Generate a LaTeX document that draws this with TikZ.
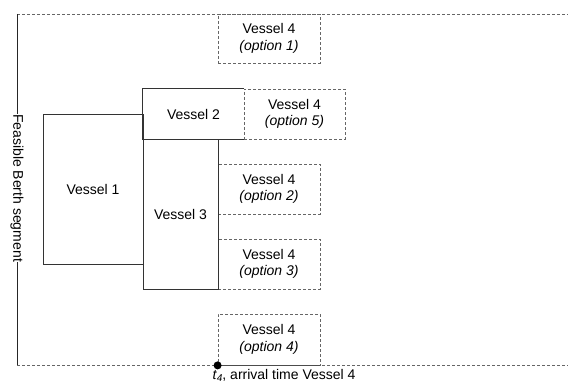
\documentclass[tikz,border=0pt]{standalone}
\usepackage{fontspec}
\setmainfont{Liberation Sans}
\begin{document}
\begin{tikzpicture}[x=1pt,y=-1pt,
  lbl/.style={font=\fontsize{14}{16.5}\selectfont, align=center, text=black},
  vessel/.style={lbl, draw=black!80, line width=0.9pt, inner sep=0pt},
  option/.style={lbl, draw=black!60, line width=0.8pt, dash pattern=on 3pt off 2pt, inner sep=0pt},
  bound/.style={draw=black!60, line width=0.8pt, dash pattern=on 3pt off 2pt},
  axis/.style={draw=black!85, line width=0.9pt}]
\useasboundingbox (0,0) rectangle (568,387);

% berth segment frame
\coordinate (tl) at (17,14);
\coordinate (bl) at (17,365);
\coordinate (tr) at (568,14);
\coordinate (br) at (568,365);
\draw[bound] (tl) -- (tr);
\draw[bound] (bl) -- (br);

% alternative positions of vessel 4
\node[option, minimum width=102pt, minimum height=49pt] (o1) at (269,38.5) {Vessel 4\\\textit{(option 1)}};
\node[option, minimum width=102pt, minimum height=50pt] (o2) at (269,189) {Vessel 4\\\textit{(option 2)}};
\node[option, minimum width=102pt, minimum height=50pt] (o3) at (269,264) {Vessel 4\\\textit{(option 3)}};
\node[option, minimum width=102pt, minimum height=51pt] (o4) at (269,339.5) {Vessel 4\\\textit{(option 4)}};
\draw[draw=black!70, line width=0.8pt] (o4.south west) -- (o4.south east);

% berthed vessels
\node[vessel, minimum width=100pt, minimum height=150pt] (v1) at (93,189) {Vessel 1};
\node[vessel, minimum width=75pt, minimum height=150pt] (v3) at (180.5,214) {Vessel 3};
\node[lbl, minimum width=101pt, minimum height=50pt, inner sep=0pt] (v2) at (193.5,114) {Vessel 2};
\draw[draw=black!80, line width=0.9pt] (v2.north east) -- (v2.north west) -- (v2.south west) -- (v2.south east);
\node[option, minimum width=101pt, minimum height=50pt] (o5) at (294.5,114) {Vessel 4\\\textit{(option 5)}};

% berth axis with its label
\draw[axis] (tl) -- (bl);
\node[lbl, rotate=-90, fill=white, inner sep=0.5pt] (ax) at (17,188) {Feasible Berth segment};

% arrival time of vessel 4
\fill[black] (o4.south west) circle (4pt);
\node[lbl, anchor=north, inner sep=0pt] (t4) at (284,369) {\textit{t}\raisebox{-0.25ex}{\fontsize{10}{10}\selectfont\textit{4}}, arrival time Vessel 4};
\end{tikzpicture}
\end{document}
